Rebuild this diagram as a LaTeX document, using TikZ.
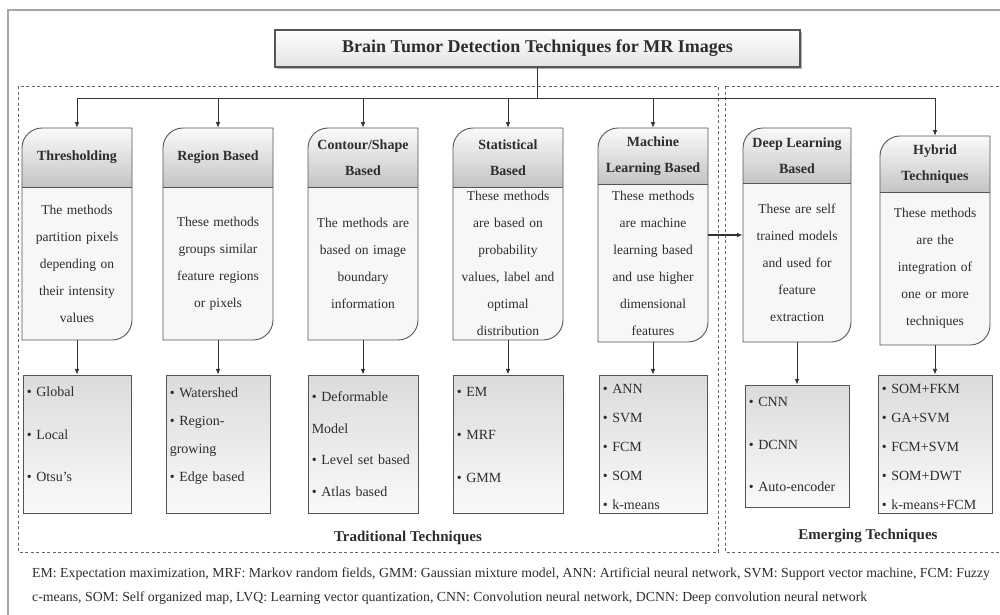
\documentclass[tikz,border=0pt]{standalone}
\usepackage{fontspec}
\setmainfont{Liberation Serif}
\usepackage{tikz}
\usetikzlibrary{arrows.meta, shadows}
\definecolor{edgegray}{RGB}{85, 85, 85}
\definecolor{shadegray}{RGB}{196, 196, 196}
\definecolor{dashgray}{RGB}{100, 100, 100}
\definecolor{inkgray}{RGB}{45, 45, 45}
\tikzstyle{arrow} = [-{Latex[length=2mm, width=1.6mm]}, line width=0.9pt, draw=black!80]
\tikzstyle{busline} = [line width=0.9pt, draw=black!80]
\tikzstyle{cardline} = [draw=edgegray, line width=0.9pt]
\tikzstyle{groupline} = [draw=dashgray, line width=0.8pt, dash pattern=on 3pt off 2.5pt]
\tikzstyle{titlebox} = [rectangle, draw=edgegray, line width=1.2pt, top color=white, bottom color=gray!22,
                        minimum width=525pt, minimum height=37pt, text=inkgray,
                        font=\fontsize{18}{20}\selectfont\bfseries,
                        drop shadow={shadow xshift=1.5pt, shadow yshift=-1.5pt, fill=gray!60, opacity=1}]
\tikzstyle{hdrtext} = [inner sep=0pt, align=center, text=inkgray, font=\fontsize{14}{26}\selectfont\bfseries]
\tikzstyle{desctext} = [inner sep=0pt, text width=104pt, align=center, text=inkgray, font=\fontsize{13.5}{27}\selectfont]
\tikzstyle{listbox} = [rectangle, draw=edgegray, line width=0.9pt, top color=gray!28, bottom color=gray!4,
                       drop shadow={shadow xshift=1.2pt, shadow yshift=-1.2pt, fill=gray!55, opacity=1}]
\tikzstyle{listtext} = [inner sep=0pt, text width=112pt, align=left, text=inkgray, anchor=west]
\tikzstyle{grouplabel} = [inner sep=0pt, text=inkgray, font=\fontsize{15}{18}\selectfont\bfseries]

% card: name, left, right, top, header bottom, bottom, header, text
\newcommand{\techcard}[8]{%
  \shade[top color=gray!4, bottom color=shadegray]
    (#2,#5) -- (#2,#4+20) arc[start angle=180, end angle=90, radius=20pt] -- (#3,#4) -- (#3,#5) -- cycle;
  \fill[gray!6] (#2,#5) -- (#2,#6) -- (#3-20,#6) arc[start angle=270, end angle=360, radius=20pt] -- (#3,#5) -- cycle;
  \draw[cardline] (#2,#5) -- (#3,#5);
  \draw[cardline] (#2,#4+20) -- (#2,#6) -- (#3-20,#6) arc[start angle=270, end angle=360, radius=20pt]
    -- (#3,#4) -- (#2+20,#4) arc[start angle=90, end angle=180, radius=20pt] -- cycle;
  \node[hdrtext, minimum width={(#3-#2)*1pt}, minimum height={(#5-#4)*1pt}] (#1h) at ({(#2+#3)/2},{(#4+#5)/2}) {#7};
  \node[desctext, minimum width={(#3-#2)*1pt}, minimum height={(#6-#5)*1pt}] (#1d) at ({(#2+#3)/2},{(#5+#6)/2}) {#8};
}
% list: name, centre x, width, top, bottom, line skip, raise, items
\newcommand{\techlist}[8]{%
  \node[listbox, minimum width=#3pt, minimum height={(#5-#4)*1pt}] (#1l) at (#2,{(#4+#5)/2}) {};
  \node[listtext, font={\fontsize{14}{#6}\selectfont}] (#1t) at ([xshift=4pt, yshift=#7pt]#1l.west) {#8};
}

\begin{document}
\begin{tikzpicture}[x=1pt, y=-1pt]
    \useasboundingbox (0,0) rectangle (1000,614);
    \clip (0,0) rectangle (1000,614);
    \fill[white] (0,0) rectangle (1000,614);
    \draw[gray!70, line width=1.5pt] (8,700) -- (8,10) -- (1100,10);

    % Groups
    \draw[groupline] (18,86) rectangle (718,552);
    \draw[groupline] (725,86) rectangle (1020,552);
    \node[grouplabel] (tradlbl) at (408,538) {Traditional Techniques};
    \node[grouplabel] (emerglbl) at (868,536) {Emerging Techniques};

    % Title
    \node[titlebox] (title) at (537.5,48.5) {Brain Tumor Detection Techniques for MR Images};

    % Cards
    \techcard{thr}{22}{132}{128}{187}{340}{Thresholding}
      {The methods\\partition pixels\\depending on\\their intensity\\values}
    \techcard{reg}{163}{273}{128}{187}{340}{Region Based}
      {These methods\\groups similar\\feature regions\\or pixels}
    \techcard{con}{308}{418}{128}{187}{340}{Contour/Shape\\Based}
      {The methods are\\based on image\\boundary\\information}
    \techcard{sta}{453}{563}{128}{187}{340}{Statistical\\Based}
      {These methods\\are based on\\probability\\values, label and\\optimal\\distribution}
    \techcard{mac}{598}{708}{128}{184}{342}{Machine\\Learning Based}
      {These methods\\are machine\\learning based\\and use higher\\dimensional\\features}
    \techcard{dee}{743}{851}{128}{183}{342}{Deep Learning\\Based}
      {These are self\\trained models\\and used for\\feature\\extraction}
    \techcard{hyb}{880}{990}{136}{192}{345}{Hybrid\\Techniques}
      {These methods\\are the\\integration of\\one or more\\techniques}

    % Lists
    \techlist{thr}{77}{108}{375}{513}{42.5}{9.5}
      {\textbullet\ Global\\\textbullet\ Local\\\textbullet\ Otsu's}
    \techlist{reg}{218}{104}{375}{513}{28}{8}
      {\textbullet\ Watershed\\\textbullet\ Region-\\growing\\\textbullet\ Edge based}
    \techlist{con}{363}{110}{375}{513}{31.5}{0}
      {\textbullet\ Deformable\\Model\\\textbullet\ Level set based\\\textbullet\ Atlas based}
    \techlist{sta}{508}{110}{375}{513}{43}{9}
      {\textbullet\ EM\\\textbullet\ MRF\\\textbullet\ GMM}
    \techlist{mac}{653}{108}{375}{513}{28.8}{-3}
      {\textbullet\ ANN\\\textbullet\ SVM\\\textbullet\ FCM\\\textbullet\ SOM\\\textbullet\ k-means}
    \techlist{dee}{797}{104}{385}{507}{42.5}{1.5}
      {\textbullet\ CNN\\\textbullet\ DCNN\\\textbullet\ Auto-encoder}
    \techlist{hyb}{935}{114}{375}{513}{28.8}{-3}
      {\textbullet\ SOM+FKM\\\textbullet\ GA+SVM\\\textbullet\ FCM+SVM\\\textbullet\ SOM+DWT\\\textbullet\ k-means+FCM}

    % Connectors
    \coordinate (busL) at (77,98);
    \coordinate (busR) at (935,98);
    \draw[busline] (title) -- (title |- busL);
    \draw[busline] (busL) -- (busR);
    \foreach \c in {thr, reg, con, sta, mac, hyb}
        \draw[arrow] (\c h.north |- busL) -- (\c h);
    \foreach \c in {thr, reg, con, sta, mac, dee, hyb}
        \draw[arrow] (\c d) -- (\c l);
    \draw[arrow, line width=1.6pt] ([yshift=28pt]macd.east) -- ([yshift=28pt]macd.east -| deed.west);

    % Abbreviations
    \node[inner sep=0pt, anchor=north west, align=left, text=inkgray, font=\fontsize{13.8}{24}\selectfont] (notes) at (32,568)
      {EM: Expectation maximization, MRF: Markov random fields, GMM: Gaussian mixture model, ANN: Artificial neural network, SVM: Support vector machine, FCM: Fuzzy\\
       c-means, SOM: Self organized map, LVQ: Learning vector quantization, CNN: Convolution neural network, DCNN: Deep convolution neural network};
\end{tikzpicture}
\end{document}
